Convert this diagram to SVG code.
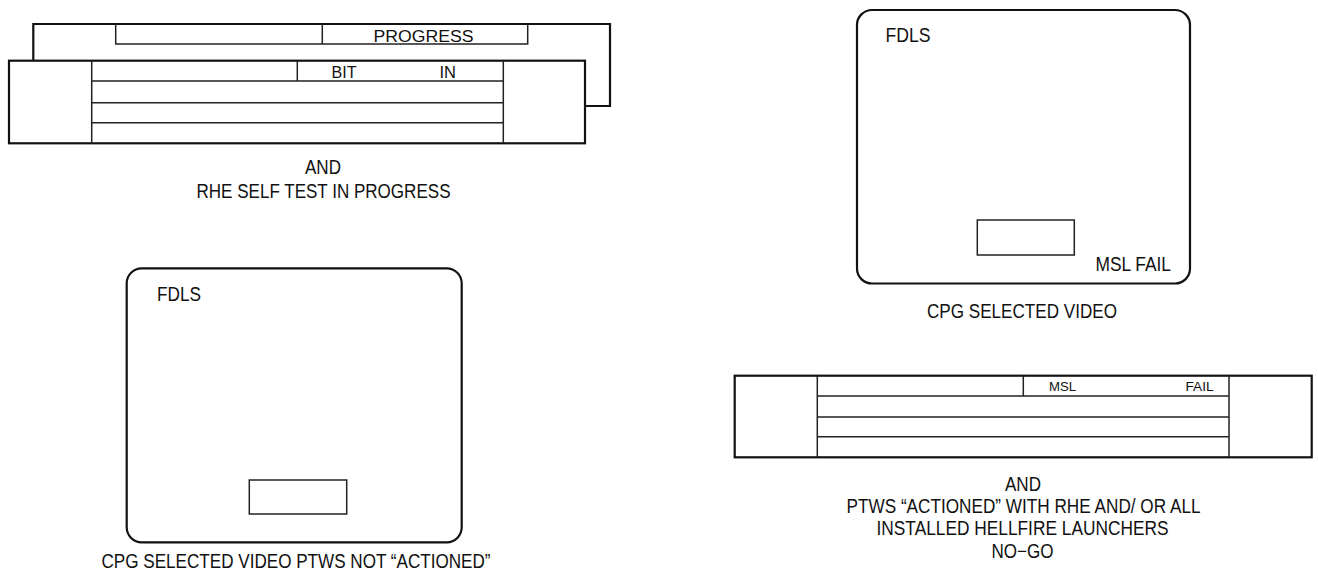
<svg xmlns="http://www.w3.org/2000/svg" width="1318" height="582" viewBox="0 0 1318 582">
<style>
.bg{fill:#fff}
.thick{fill:none;stroke:#111;stroke-width:2.2}
.thin{fill:none;stroke:#222;stroke-width:1.5}
.box{fill:#fff;stroke:#111;stroke-width:2.2}
text{font-family:"Liberation Sans",Arial,sans-serif;fill:#111}
.cap{font-size:20px}
.lbl{font-size:16px}
.sm{font-size:13px}
</style>
<rect class="bg" x="0" y="0" width="1318" height="582"/>

<g id="rhe-self-test">
  <path class="thick" d="M33.3,60.7 V24 H610 V106 H585"/>
  <path class="thin" d="M115.7,24 V44 H527.7 V24 M322.3,24 V44"/>
  <text class="lbl" x="373.5" y="41.5" textLength="100" lengthAdjust="spacingAndGlyphs">PROGRESS</text>
  <rect class="box" x="9" y="60.7" width="576" height="82.6"/>
  <path class="thin" d="M91.7,60.7 V143.3 M503.3,60.7 V143.3 M91.7,81 H503.3 M91.7,102.7 H503.3 M91.7,122.7 H503.3 M297.3,60.7 V81"/>
  <text class="lbl" x="331.5" y="78" textLength="25" lengthAdjust="spacingAndGlyphs">BIT</text>
  <text class="lbl" x="439.5" y="78" textLength="16.5" lengthAdjust="spacingAndGlyphs">IN</text>
  <text class="cap" x="305" y="174.3" textLength="36" lengthAdjust="spacingAndGlyphs">AND</text>
  <text class="cap" x="196.5" y="198.3" textLength="254" lengthAdjust="spacingAndGlyphs">RHE SELF TEST IN PROGRESS</text>
</g>

<g id="cpg-video-msl-fail">
  <rect class="box" x="857" y="10" width="333" height="273.5" rx="15" ry="15"/>
  <rect class="thin" x="977.3" y="220" width="97" height="35"/>
  <text class="cap" x="885.5" y="41.7" style="font-size:20.5px" textLength="45" lengthAdjust="spacingAndGlyphs">FDLS</text>
  <text class="cap" x="1095.5" y="270.7" style="font-size:20.5px" textLength="75.5" lengthAdjust="spacingAndGlyphs">MSL FAIL</text>
  <text class="cap" x="927" y="318.3" textLength="190" lengthAdjust="spacingAndGlyphs">CPG SELECTED VIDEO</text>
</g>

<g id="cpg-video-not-actioned">
  <rect class="box" x="126.7" y="268.3" width="335" height="274" rx="15" ry="15"/>
  <rect class="thin" x="249.3" y="480" width="97.4" height="34"/>
  <text class="cap" x="157" y="300.7" style="font-size:20.5px" textLength="44" lengthAdjust="spacingAndGlyphs">FDLS</text>
  <text class="cap" x="101.5" y="567.5" textLength="389" lengthAdjust="spacingAndGlyphs">CPG SELECTED VIDEO PTWS NOT “ACTIONED”</text>
</g>

<g id="msl-fail-panel">
  <rect class="box" x="734.7" y="375.7" width="577" height="81.6"/>
  <path class="thin" d="M817.3,375.7 V457.3 M1229,375.7 V457.3 M817.3,396 H1229 M817.3,417 H1229 M817.3,436.7 H1229 M1023.3,375.7 V396"/>
  <text class="sm" x="1049" y="390.7" textLength="27" lengthAdjust="spacingAndGlyphs">MSL</text>
  <text class="sm" x="1185.5" y="390.7" textLength="28" lengthAdjust="spacingAndGlyphs">FAIL</text>
  <text class="cap" x="1005" y="490.7" textLength="36" lengthAdjust="spacingAndGlyphs">AND</text>
  <text class="cap" x="846.5" y="513.3" textLength="354" lengthAdjust="spacingAndGlyphs">PTWS “ACTIONED” WITH RHE AND/ OR ALL</text>
  <text class="cap" x="876.5" y="535" textLength="292" lengthAdjust="spacingAndGlyphs">INSTALLED HELLFIRE LAUNCHERS</text>
  <text class="cap" x="991.5" y="558.3" textLength="62" lengthAdjust="spacingAndGlyphs">NO−GO</text>
</g>
</svg>
